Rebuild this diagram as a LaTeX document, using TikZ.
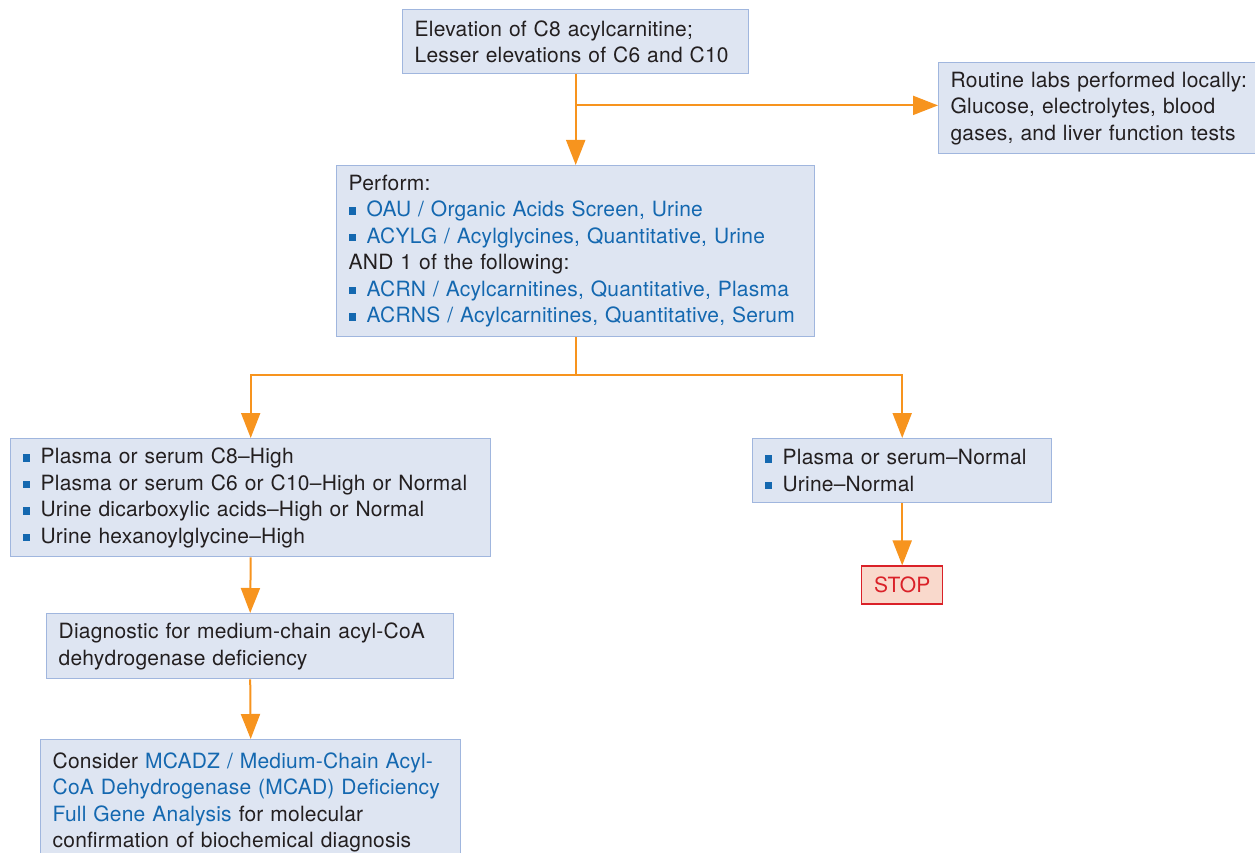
\documentclass[tikz,border=0pt]{standalone}
\usepackage{fontspec}
\setmainfont[LetterSpace=1.0]{TeX Gyre Heros}
\usetikzlibrary{positioning,arrows.meta,calc}

\definecolor{boxfill}{RGB}{222,229,242}
\definecolor{boxline}{RGB}{160,182,222}
\definecolor{linkblue}{RGB}{20,104,176}
\definecolor{textdark}{RGB}{35,31,32}
\definecolor{flow}{RGB}{247,148,30}
\definecolor{stopfill}{RGB}{249,217,204}
\definecolor{stopline}{RGB}{218,33,40}

% small blue square in front of list lines
\newcommand{\bul}{\textcolor{linkblue}{\rule[2pt]{7.5pt}{7.5pt}}\hspace{10.5pt}}
\newcommand{\lnk}[1]{\textcolor{linkblue}{#1}}

\begin{document}
\begin{tikzpicture}[
  x=1pt, y=-1pt,
  font=\fontsize{21}{26.5}\selectfont,
  >={Triangle[length=25pt,width=19pt]},
  box/.style={
    draw=boxline, fill=boxfill, line width=1.4pt, anchor=north west,
    align=left, text=textdark, inner xsep=12pt, inner ysep=0pt
  },
  stopbox/.style={
    draw=stopline, fill=stopfill, line width=1.2pt,
    text=stopline, inner sep=0pt
  },
  flowline/.style={draw=flow, line width=2pt}
]
\useasboundingbox (0,0) rectangle (1255,853);
\clip (0,0) rectangle (1255,853);

% ---------- boxes ----------
\node[box, minimum width=346pt, minimum height=64pt, text width=322pt] (elev) at (402,9)
  {Elevation of C8 acylcarnitine;\\Lesser elevations of C6 and C10};

\node[box, minimum width=330pt, minimum height=91pt, text width=306pt] (routine) at (938,62)
  {Routine labs performed locally:\\Glucose, electrolytes, blood\\gases, and liver function tests};

\node[box, minimum width=478pt, minimum height=171pt, text width=454pt] (perform) at (336,165)
  {Perform:\\
   \bul\lnk{OAU / Organic Acids Screen, Urine}\\
   \bul\lnk{ACYLG / Acylglycines, Quantitative, Urine}\\
   AND 1 of the following:\\
   \bul\lnk{ACRN / Acylcarnitines, Quantitative, Plasma}\\
   \bul\lnk{ACRNS / Acylcarnitines, Quantitative, Serum}};

\node[box, minimum width=480pt, minimum height=118pt, text width=456pt] (high) at (10,438)
  {\bul Plasma or serum C8--High\\
   \bul Plasma or serum C6 or C10--High or Normal\\
   \bul Urine dicarboxylic acids--High or Normal\\
   \bul Urine hexanoylglycine--High};

\node[box, minimum width=299pt, minimum height=64pt, text width=275pt] (normal) at (752,438)
  {\bul Plasma or serum--Normal\\
   \bul Urine--Normal};

\node[stopbox, minimum width=81pt, minimum height=38pt, below=62pt of normal] (stop) {STOP};

\node[box, minimum width=407pt, minimum height=65pt, text width=383pt] (diag) at (46,613)
  {Diagnostic for medium-chain acyl-CoA\\dehydrogenase deficiency};

\node[box, minimum width=420pt, minimum height=125pt, text width=396pt] (mcad) at (40,739)
  {Consider \lnk{MCADZ / Medium-Chain Acyl-}\\
   \lnk{CoA Dehydrogenase (MCAD) Deficiency}\\
   \lnk{Full Gene Analysis} for molecular\\
   confirmation of biochemical diagnosis};

% ---------- connectors ----------
\coordinate (split1) at ($(elev.south)+(0,31)$);
\coordinate (split2) at ($(perform.south)+(0,38)$);

\draw[flowline, ->] (elev.south) -- (perform.north);
\draw[flowline, ->] (split1) -- (split1 -| routine.west);
\draw[flowline] (perform.south) -- (split2);
\draw[flowline, ->] (split2) -| (high.north);
\draw[flowline, ->] (split2) -| (normal.north);
\draw[flowline, ->] (high.south) -- (diag.north);
\draw[flowline, ->] (diag.south) -- (mcad.north);
\draw[flowline, ->] (normal.south) -- (stop.north);

\end{tikzpicture}
\end{document}
